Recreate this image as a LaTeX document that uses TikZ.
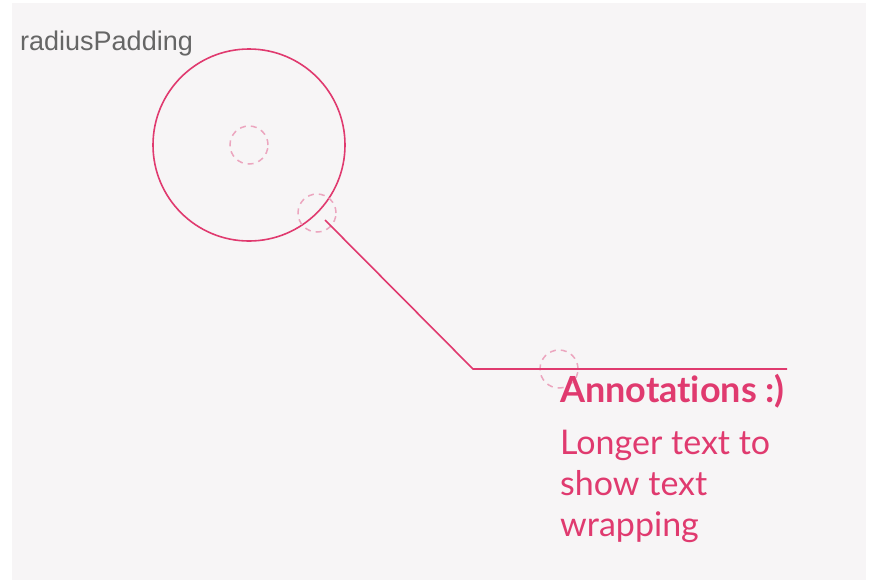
\documentclass[tikz,border=0pt]{standalone}
\usepackage{fontspec}
\setmainfont{Lato}[Ligatures={NoCommon,NoRare,NoDiscretionary}]
\newfontfamily\labfont{Liberation Sans}
\definecolor{bgc}{HTML}{F7F5F6}
\definecolor{pk}{HTML}{E03A6F}
\definecolor{pkl}{HTML}{ECA6BF}
\definecolor{gry}{HTML}{666666}
\begin{document}
\begin{tikzpicture}[x=1pt,y=-1pt,
  ring/.style={circle,draw=pk,line width=1.6pt,minimum size=192pt,inner sep=0pt},
  dring/.style={circle,draw=pkl,dashed,dash pattern=on 6pt off 5pt,line width=1.5pt,minimum size=38pt,inner sep=0pt},
  conn/.style={draw=pk,line width=1.6pt}]
\useasboundingbox (0,0) rectangle (870,582);
\fill[white] (0,0) rectangle (870,582);
\fill[bgc] (12,3) rectangle (866,580);
\node[anchor=base west,text=gry,font=\labfont\fontsize{27}{30}\selectfont,inner sep=0pt] (lbl) at (20,50) {radiusPadding};
\node[ring] (big) at (249,145) {};
\node[dring] (c1) at (249,145) {};
\node[dring] (c2) at (317,213) {};
\node[dring] (c3) at (559,369) {};
\coordinate (s) at (325,220);
\coordinate (e) at (473,369);
\coordinate (t) at (787,369);
\draw[conn] (s) -- (e) -- (t);
\node[anchor=base west,text=pk,font=\fontsize{36}{40}\selectfont\bfseries,inner sep=0pt] (h) at (560,402) {Annotations :)};
\node[anchor=base west,text=pk,font=\fontsize{34}{41}\selectfont,inner sep=0pt,align=left] (b) at (560,536) {Longer text to\\show text\\wrapping};
\end{tikzpicture}
\end{document}
